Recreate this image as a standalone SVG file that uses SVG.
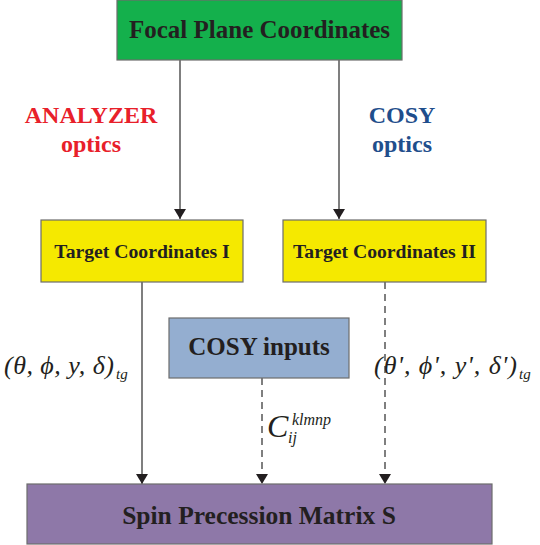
<svg xmlns="http://www.w3.org/2000/svg" width="540" height="545" viewBox="0 0 540 545">
<style>
.box{stroke:#6d6d6d;stroke-width:1.2}
.lbl{font-family:"Liberation Serif","Times New Roman",serif;font-weight:bold;fill:#231f20;text-anchor:middle}
.math{font-family:"Liberation Serif","Times New Roman",serif;font-style:italic;fill:#231f20}
.conn{stroke:#555;stroke-width:1.5;fill:none}
.dash{stroke-dasharray:7,5}
</style>
<defs>
<marker id="ah" viewBox="0 0 10 14" refX="10" refY="7" markerWidth="10" markerHeight="14" markerUnits="userSpaceOnUse" orient="auto">
<path d="M0,1 L10,7 L0,13 Z" fill="#231f20"/>
</marker>
</defs>
<rect width="540" height="545" fill="#fff"/>
<g id="connectors">
<line class="conn" x1="180" y1="60" x2="180" y2="219" marker-end="url(#ah)"/>
<line class="conn" x1="339" y1="60" x2="339" y2="219" marker-end="url(#ah)"/>
<line class="conn" x1="142" y1="282" x2="142" y2="484" marker-end="url(#ah)"/>
<line class="conn dash" x1="262" y1="378" x2="262" y2="484" marker-end="url(#ah)"/>
<line class="conn dash" x1="385" y1="282" x2="385" y2="484" marker-end="url(#ah)"/>
</g>
<g id="focal">
<rect class="box" x="117" y="0" width="285" height="60" fill="#14b04c"/>
<text class="lbl" x="259.5" y="38" font-size="25">Focal Plane Coordinates</text>
</g>
<g id="target1">
<rect class="box" x="41" y="220" width="202" height="62" fill="#f5e900"/>
<text class="lbl" x="142" y="258" font-size="19.7">Target Coordinates I</text>
</g>
<g id="target2">
<rect class="box" x="283" y="220" width="203" height="62" fill="#f5e900"/>
<text class="lbl" x="384.5" y="258" font-size="19.7">Target Coordinates II</text>
</g>
<g id="cosyinputs">
<rect class="box" x="169" y="318" width="180" height="60" fill="#94aed0"/>
<text class="lbl" x="259" y="355" font-size="25">COSY inputs</text>
</g>
<g id="spin">
<rect class="box" x="27" y="484" width="465" height="60" fill="#8e78a8"/>
<text class="lbl" x="259" y="524" font-size="25.5">Spin Precession Matrix S</text>
</g>
<g id="labels">
<text class="lbl" x="91" y="123" font-size="24" style="fill:#e8202a">ANALYZER</text>
<text class="lbl" x="91" y="152" font-size="24" style="fill:#e8202a">optics</text>
<text class="lbl" x="402" y="123" font-size="24" style="fill:#1f4e8c">COSY</text>
<text class="lbl" x="402" y="152" font-size="24" style="fill:#1f4e8c">optics</text>
<text class="math" x="4" y="374" font-size="26" textLength="110" lengthAdjust="spacing">(θ, ϕ, y, δ)</text>
<text class="math" x="116" y="379" font-size="15">tg</text>
<text class="math" x="374" y="374" font-size="26" textLength="143" lengthAdjust="spacing">(θ', ϕ', y', δ')</text>
<text class="math" x="519" y="379" font-size="15">tg</text>
<text class="math" x="267" y="437" font-size="32">C</text>
<text class="math" x="292" y="425" font-size="16">klmnp</text>
<text class="math" x="288" y="443" font-size="16">ij</text>
</g>
</svg>
